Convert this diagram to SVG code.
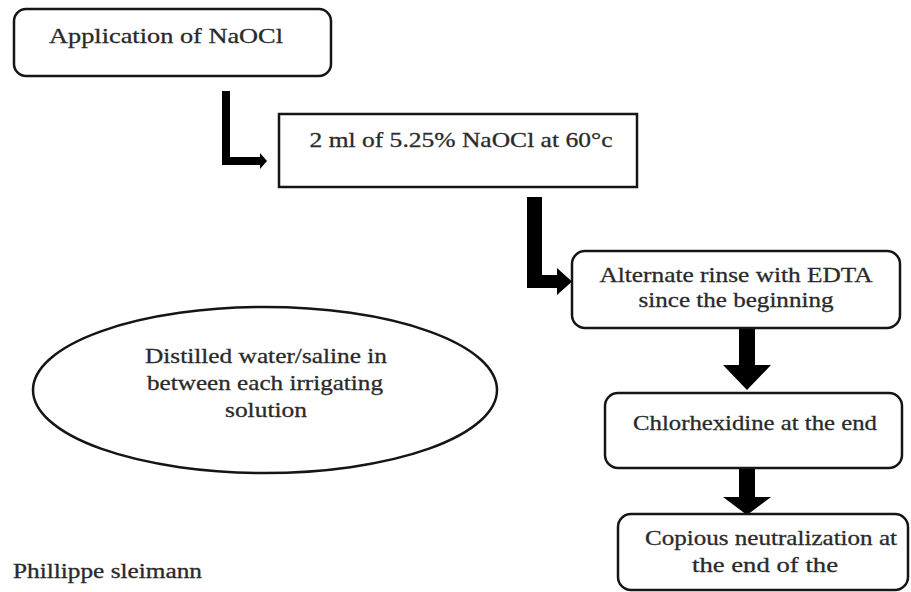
<svg xmlns="http://www.w3.org/2000/svg" width="911" height="592" viewBox="0 0 911 592">
<style>
.box{fill:#fff;stroke:#151515;stroke-width:2.5}
.t{font-family:'Liberation Serif','DejaVu Serif','Times New Roman',serif;font-size:22px;fill:#2a2a2a;stroke:#2a2a2a;stroke-width:0.3;text-anchor:middle}
.arr{fill:#000}
</style>
<rect width="911" height="592" fill="#fff"/>
<g id="connectors">
<polygon class="arr" points="222,91 230,91 230,157 260,157 260,153 267,161 260,169 260,165 222,165"/>
<polygon class="arr" points="527,197 542,197 542,275 557,275 557,268 572,281.5 557,295 557,288 527,288"/>
<polygon class="arr" points="739,328 755,328 755,365 771,365 747,390 723,365 739,365"/>
<polygon class="arr" points="739,468 755,468 755,497 771,497 747,515 723,497 739,497"/>
</g>
<g id="n1">
<rect class="box" x="14" y="9" width="317" height="67" rx="12"/>
<text class="t" x="166" y="43" textLength="234" lengthAdjust="spacingAndGlyphs">Application of NaOCl</text>
</g>
<g id="n2">
<rect class="box" x="279" y="114" width="358" height="73"/>
<text class="t" x="461" y="147" textLength="303" lengthAdjust="spacingAndGlyphs">2 ml of 5.25% NaOCl at 60°c</text>
</g>
<g id="n3">
<rect class="box" x="572" y="251" width="328" height="77" rx="13"/>
<text class="t" x="736" y="282" textLength="273" lengthAdjust="spacingAndGlyphs">Alternate rinse with EDTA</text>
<text class="t" x="736" y="307" textLength="195" lengthAdjust="spacingAndGlyphs">since the beginning</text>
</g>
<g id="n4">
<rect class="box" x="605" y="393" width="297" height="75" rx="13"/>
<text class="t" x="755" y="430" textLength="244" lengthAdjust="spacingAndGlyphs">Chlorhexidine at the end</text>
</g>
<g id="n5">
<rect class="box" x="618" y="514" width="290" height="76" rx="13"/>
<text class="t" x="771" y="545" textLength="252" lengthAdjust="spacingAndGlyphs">Copious neutralization at</text>
<text class="t" x="765" y="572" textLength="146" lengthAdjust="spacingAndGlyphs">the end of the</text>
</g>
<g id="n6">
<ellipse class="box" cx="265" cy="390" rx="232" ry="83"/>
<text class="t" x="266" y="363" textLength="242" lengthAdjust="spacingAndGlyphs">Distilled water/saline in</text>
<text class="t" x="265" y="390" textLength="236" lengthAdjust="spacingAndGlyphs">between each irrigating</text>
<text class="t" x="266" y="417" textLength="82" lengthAdjust="spacingAndGlyphs">solution</text>
</g>
<g id="caption">
<text class="t" x="13" y="578" style="text-anchor:start;font-size:20px" textLength="189" lengthAdjust="spacingAndGlyphs">Phillippe sleimann</text>
</g>
</svg>
